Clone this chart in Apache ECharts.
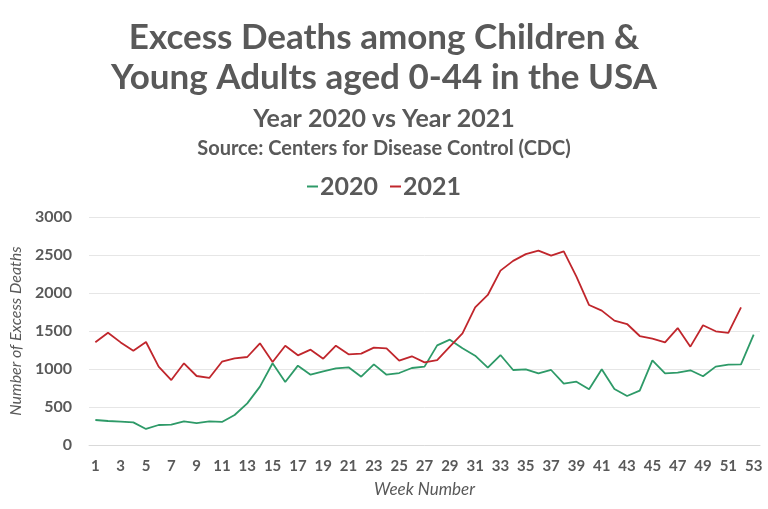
<!DOCTYPE html>
<html>
<head>
    <meta charset="utf-8" />
    <title>Excess Deaths 0-44</title>
    <script src="https://cdn.jsdelivr.net/npm/echarts@6/dist/echarts.min.js"></script>
    <style>
        html, body { margin: 0; padding: 0; background: #fff; }
        #charts { width: 768px; height: 509px; }
    </style>
</head>
<body>
    <div id="charts"></div>
    <script type="text/javascript">
        // week numbers 1..53
        var weeks = ['1','2','3','4','5','6','7','8','9','10','11','12','13','14','15','16','17','18','19','20',
            '21','22','23','24','25','26','27','28','29','30','31','32','33','34','35','36','37','38','39','40',
            '41','42','43','44','45','46','47','48','49','50','51','52','53'];

        // 2020 excess deaths
        var deaths2020 = [329, 316, 307, 298, 211, 263, 268, 311, 289, 311,
            303, 395, 548, 768, 1075, 829, 1044, 925, 969, 1009,
            1022, 899, 1061, 925, 947, 1013, 1031, 1311, 1386, 1272,
            1175, 1018, 1184, 987, 996, 943, 987, 807, 833, 733,
            996, 737, 645, 715, 1114, 943, 952, 983, 904, 1031,
            1057, 1061, 1452];

        // 2021 excess deaths (no week 53)
        var deaths2021 = [1351, 1478, 1350, 1241, 1355, 1031, 855, 1075, 908, 882,
            1096, 1140, 1158, 1338, 1092, 1305, 1180, 1254, 1136, 1307,
            1193, 1202, 1281, 1272, 1110, 1167, 1088, 1118, 1294, 1469,
            1811, 1974, 2294, 2423, 2511, 2557, 2491, 2548, 2215, 1842,
            1768, 1636, 1592, 1434, 1399, 1351, 1539, 1294, 1575, 1496,
            1474, 1811];

        var myChart = echarts.init(document.getElementById('charts'));

        var gray = '#595959';
        var font = 'Lato';

        var option = {
            backgroundColor: '#ffffff',
            animation: false,
            title: [
                {
                    text: 'Excess Deaths among Children &\nYoung Adults aged 0-44 in the USA',
                    left: 'center',
                    top: 13,
                    textStyle: { fontFamily: font, fontWeight: 'bold', fontSize: 35, lineHeight: 40, color: gray }
                },
                {
                    text: 'Year 2020 vs Year 2021',
                    left: 'center',
                    top: 101,
                    textStyle: { fontFamily: font, fontWeight: 'bold', fontSize: 25, color: gray }
                },
                {
                    text: 'Source: Centers for Disease Control (CDC)',
                    left: 'center',
                    top: 134,
                    textStyle: { fontFamily: font, fontWeight: 'bold', fontSize: 20, color: gray }
                }
            ],
            legend: {
                top: 169,
                left: 'center',
                itemGap: 12,
                itemWidth: 11,
                itemHeight: 2,
                icon: 'rect',
                textStyle: { fontFamily: font, fontWeight: 'bold', fontSize: 25, color: gray, padding: [0, 0, 0, -3] },
                data: ['2020', '2021']
            },
            grid: {
                left: 82,
                right: 8,
                top: 217,
                bottom: 64
            },
            xAxis: {
                type: 'category',
                data: weeks,
                boundaryGap: true,
                name: 'Week Number',
                nameLocation: 'middle',
                nameGap: 36,
                nameTextStyle: { fontFamily: font, fontStyle: 'italic', fontSize: 17, color: gray },
                axisLine: { lineStyle: { color: '#d9d9d9' } },
                axisTick: { show: false },
                axisLabel: { interval: 1, fontFamily: font, fontWeight: 'bold', fontSize: 15, color: gray, margin: 14 }
            },
            yAxis: {
                type: 'value',
                min: 0,
                max: 3000,
                interval: 500,
                name: 'Number of Excess Deaths',
                nameLocation: 'middle',
                nameGap: 63,
                nameTextStyle: { fontFamily: font, fontStyle: 'italic', fontSize: 16, color: gray },
                axisLabel: {
                    fontFamily: font, fontWeight: 'bold', fontSize: 16, color: gray, margin: 17,
                    formatter: function (v) { return String(v); }
                },
                splitLine: { lineStyle: { color: '#e6e6e6' } }
            },
            series: [
                {
                    name: '2020',
                    type: 'line',
                    data: deaths2020,
                    symbol: 'none',
                    color: '#2e9a68',
                    lineStyle: { width: 1.8, color: '#2e9a68' }
                },
                {
                    name: '2021',
                    type: 'line',
                    data: deaths2021,
                    symbol: 'none',
                    color: '#c0262c',
                    lineStyle: { width: 1.8, color: '#c0262c' }
                }
            ]
        };

        myChart.setOption(option);
    </script>
</body>
</html>
